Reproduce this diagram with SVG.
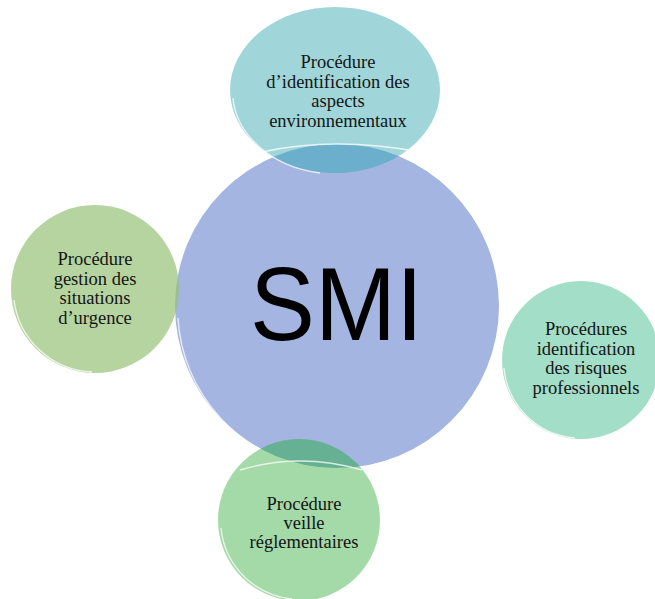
<svg xmlns="http://www.w3.org/2000/svg" width="655" height="599" viewBox="0 0 655 599">
<style>
.lbl{font-family:"Liberation Serif","Times New Roman",serif;font-size:18.5px;fill:#141414;text-anchor:middle}
.big{font-family:"Liberation Sans",Arial,sans-serif;font-size:104px;fill:#000;text-anchor:middle}
.sat{fill-opacity:0.7}
.rim{fill:none;stroke:#ffffff;stroke-opacity:0.75;stroke-width:1.4}
</style>
<defs>
<clipPath id="clipCenter"><circle cx="337" cy="306" r="162"/></clipPath>
</defs>
<rect width="655" height="599" fill="#ffffff"/>
<g id="connectors"/>
<g id="smi">
<circle cx="337" cy="306" r="162" fill="#A3B5E0"/>
<path class="rim" d="M178,318 A160,160 0 0 0 318,468"/>
<text class="big" x="336.5" y="340" textLength="173" lengthAdjust="spacingAndGlyphs">SMI</text>
</g>
<g id="aspects-env">
<ellipse class="sat" cx="335" cy="90" rx="105" ry="83" fill="#77C4CA"/>
<ellipse cx="335" cy="90" rx="105" ry="83" fill="#4696C8" fill-opacity="0.4" clip-path="url(#clipCenter)"/>
<path class="rim" d="M233,98 A104,82 0 0 0 320,173"/>
<path class="rim" d="M262,152 Q335,136 420,152" stroke-opacity="0.5"/>
<text class="lbl" x="338" y="68">Procédure</text>
<text class="lbl" x="338" y="87.5">d’identification des</text>
<text class="lbl" x="338" y="107">aspects</text>
<text class="lbl" x="338" y="126.5">environnementaux</text>
</g>
<g id="urgence">
<circle class="sat" cx="95" cy="289" r="84" fill="#97C277"/>
<path class="rim" d="M14,300 A82,82 0 0 0 92,372"/>
<text class="lbl" x="95" y="265">Procédure</text>
<text class="lbl" x="95" y="284.5">gestion des</text>
<text class="lbl" x="95" y="304">situations</text>
<text class="lbl" x="95" y="323.5">d’urgence</text>
</g>
<g id="risques-pro">
<circle class="sat" cx="581" cy="360" r="79" fill="#7CD0B0"/>
<path class="rim" d="M504,368 A77,77 0 0 0 575,438"/>
<text class="lbl" x="586" y="335">Procédures</text>
<text class="lbl" x="586" y="354.5">identification</text>
<text class="lbl" x="586" y="374">des risques</text>
<text class="lbl" x="586" y="393.5">professionnels</text>
</g>
<g id="veille">
<circle class="sat" cx="299" cy="520" r="81" fill="#7DC983"/>
<circle cx="299" cy="520" r="81" fill="#329682" fill-opacity="0.4" clip-path="url(#clipCenter)"/>
<path class="rim" d="M221,528 A79,79 0 0 0 292,599"/>
<path class="rim" d="M240,470 Q300,452 362,470" stroke-opacity="0.5"/>
<text class="lbl" x="304" y="510">Procédure</text>
<text class="lbl" x="304" y="529">veille</text>
<text class="lbl" x="304" y="548">réglementaires</text>
</g>
</svg>
